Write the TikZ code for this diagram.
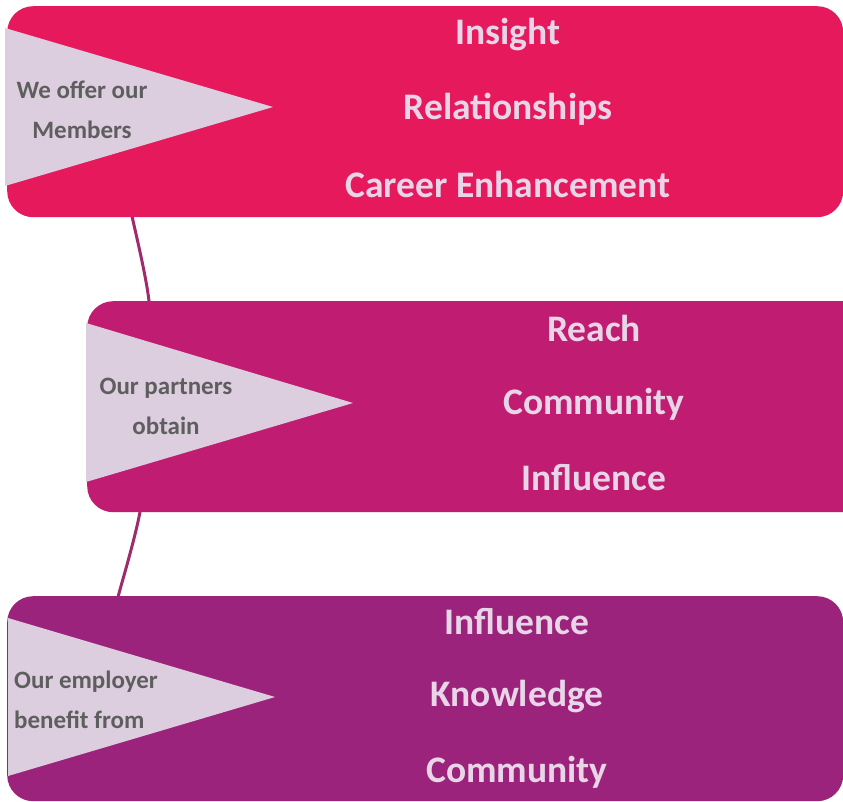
\documentclass[tikz,border=0pt]{standalone}
\usepackage{fontspec}
\setmainfont{Carlito}
\definecolor{boxA}{HTML}{E5195B}
\definecolor{boxB}{HTML}{C01C71}
\definecolor{boxC}{HTML}{9C237B}
\definecolor{tri}{HTML}{DDCEDF}
\definecolor{lbl}{HTML}{5E5E5E}
\definecolor{itm}{HTML}{E8D6E8}
\definecolor{conn}{HTML}{9E2B6B}
\begin{document}
\begin{tikzpicture}[x=1pt,y=-1pt,
  panel/.style={rounded corners=26pt, inner sep=0pt, anchor=north west},
  wedge/.style={fill=tri},
  lefttext/.style={text=lbl, font=\bfseries\fontsize{25}{40}\selectfont, align=center, inner sep=0pt},
  item/.style={text=itm, font=\bfseries\fontsize{37.5}{37.5}\selectfont, inner sep=0pt},
  link/.style={draw=conn, line width=3pt}]
\useasboundingbox (0,0) rectangle (843,802);
\clip (0,0) rectangle (843,802);
% connector behind panels
\coordinate (c0) at (127,195);
\coordinate (c1) at (132,216);
\coordinate (c2) at (149,301);
\coordinate (c3) at (154,405);
\coordinate (c4) at (140,512);
\coordinate (c5) at (118,597);
\coordinate (c6) at (113,615);
\draw[link] plot[smooth] coordinates {(c0) (c1) (c2) (c3) (c4) (c5) (c6)};
% panels
\node[panel, fill=boxA, minimum width=836pt, minimum height=211pt] (p1) at (7,6) {};
\node[panel, fill=boxB, minimum width=800pt, minimum height=211pt] (p2) at (87,301) {};
\node[panel, fill=boxC, minimum width=836pt, minimum height=205pt] (p3) at (7,596) {};
% wedges
\fill[wedge] (5,28) -- (273,107) -- (5,186) -- cycle;
\fill[wedge] (86,323) -- (353,403) -- (86,482) -- cycle;
\fill[wedge] (8,618) -- (275,697) -- (8,776) -- cycle;
% left labels
\node[lefttext] (l1) at (82,110) {We offer our\\Members};
\node[lefttext, align=left, anchor=west] (l3) at (14,700) {Our employer\\benefit from};
\node[lefttext] (l2) at (166,406) {Our partners\\obtain};
% items
\node[item] (a1) at (508,35) {Insight};
\node[item] (a2) at (508,109) {Relationships};
\node[item] (a3) at (508,184) {Career Enhancement};
\node[item] (b1) at (594,328) {Reach};
\node[item] (b2) at (594,404) {Community};
\node[item] (b3) at (594,478) {Influence};
\node[item] (d1) at (517,622) {Influence};
\node[item] (d2) at (517,697) {Knowledge};
\node[item] (d3) at (517,772) {Community};
\end{tikzpicture}
\end{document}
